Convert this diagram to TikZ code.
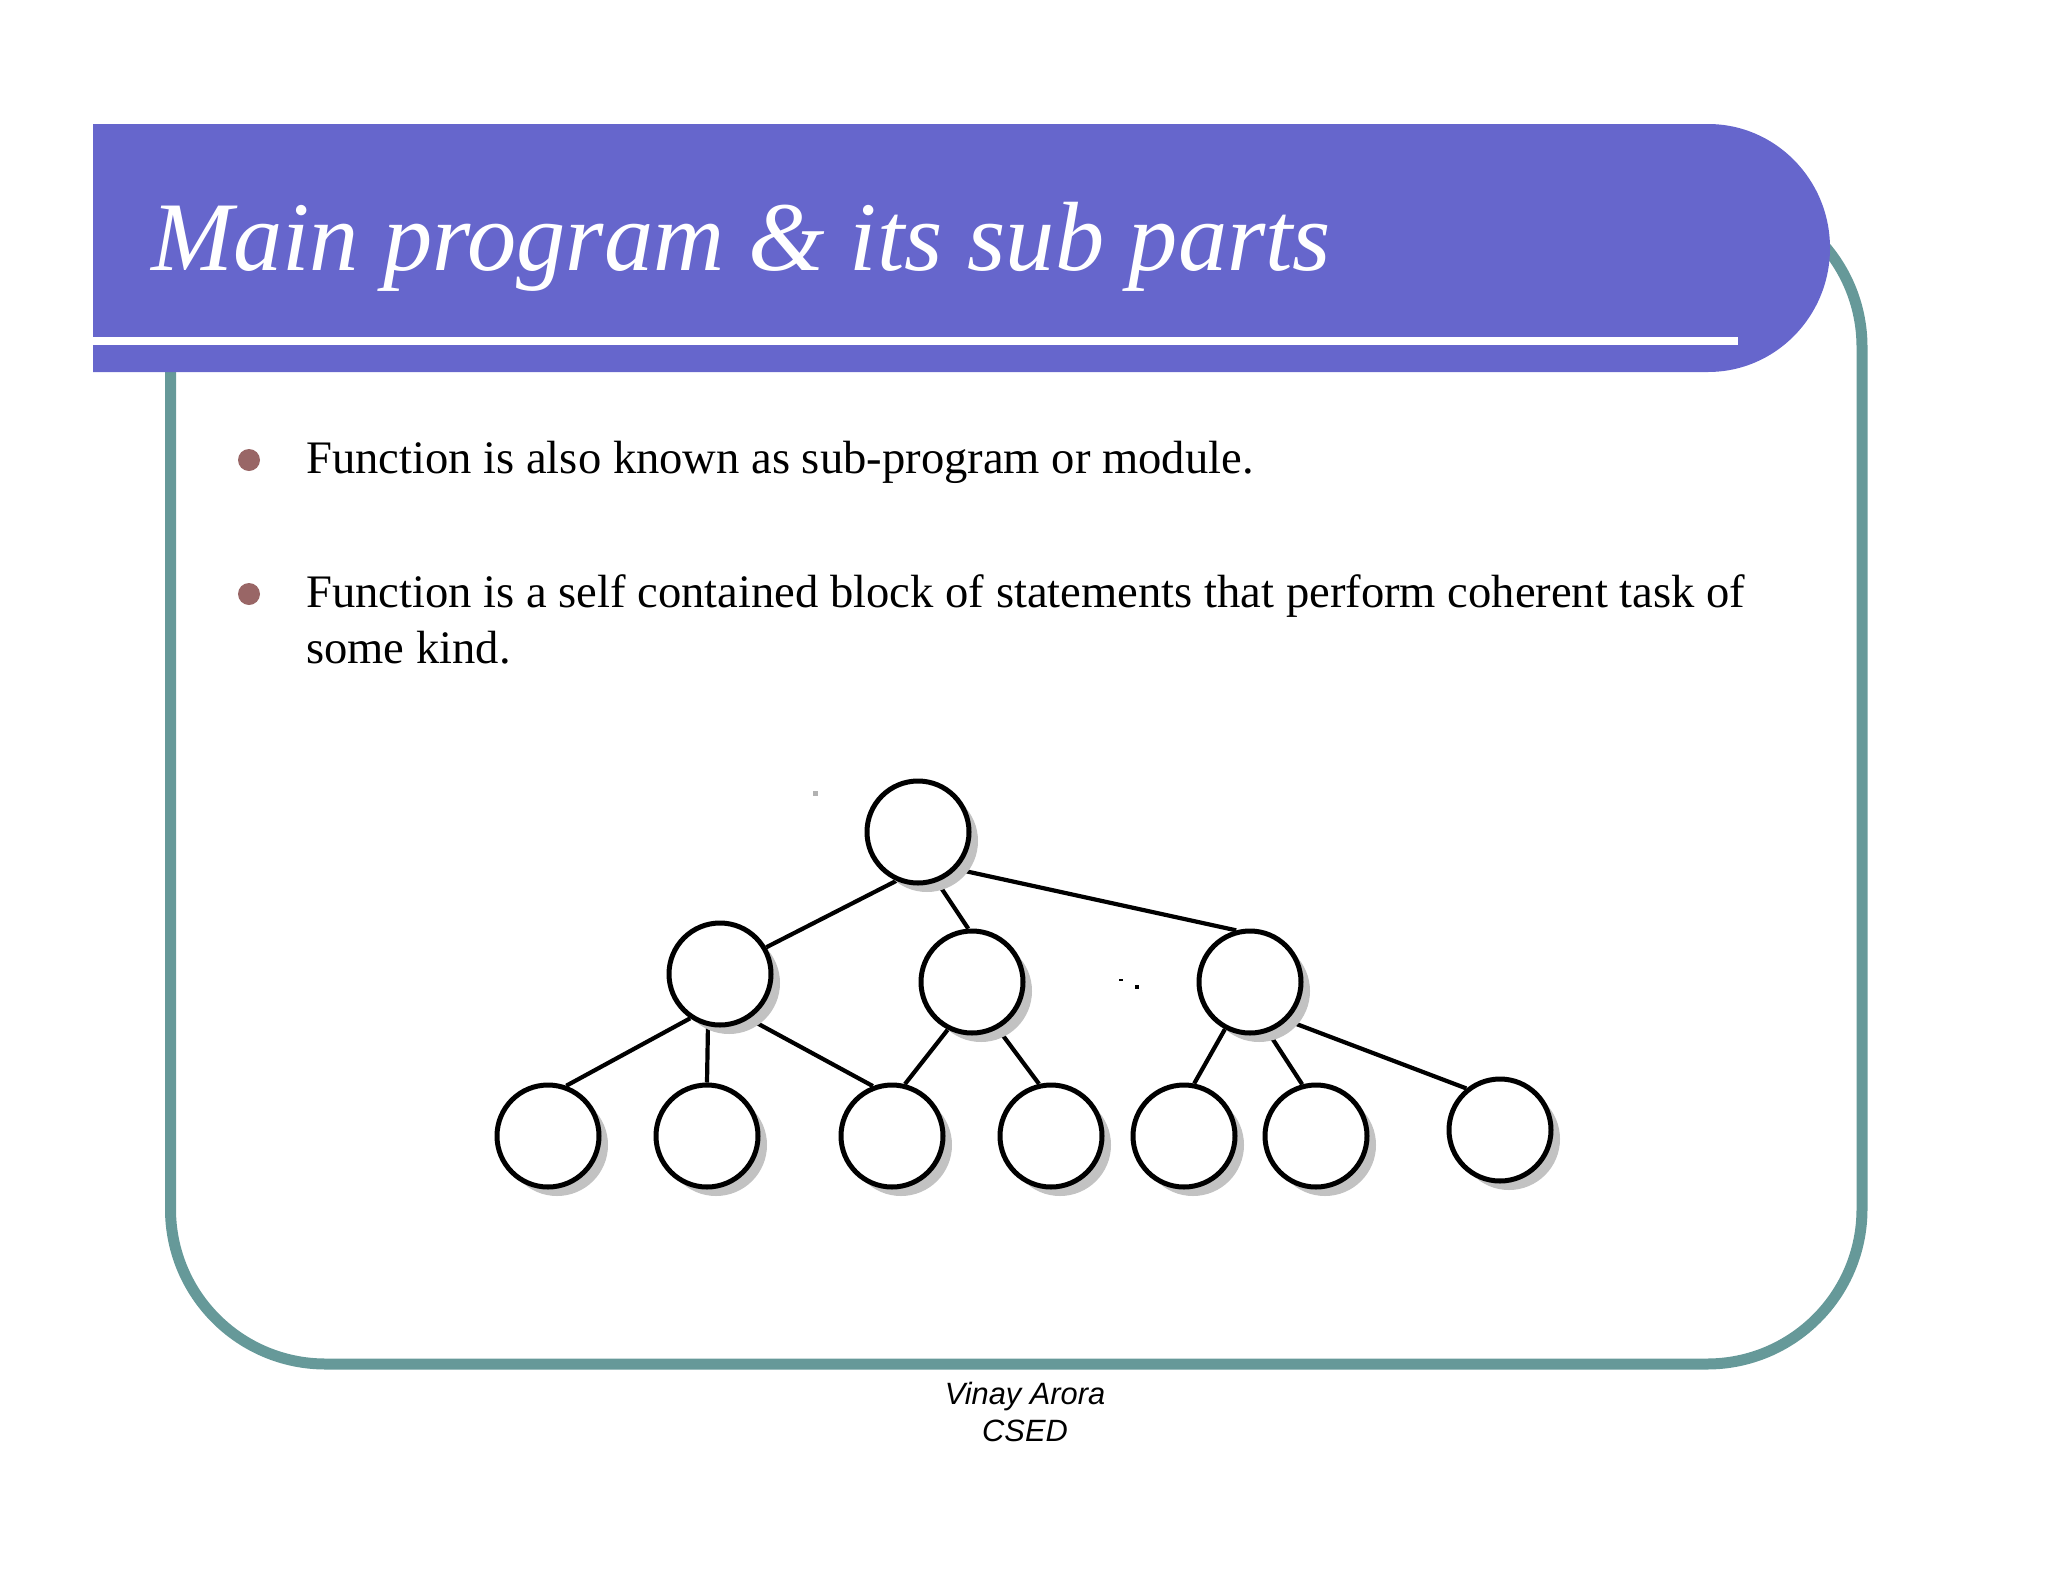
\documentclass[tikz,border=0pt]{standalone}
\usepackage{fontspec}
\setmainfont{Liberation Serif}
\newfontfamily\footfont{Liberation Sans}
\usetikzlibrary{shadows}
\definecolor{hdrpurple}{HTML}{6666CC}
\definecolor{boxteal}{HTML}{669999}
\definecolor{bulletrose}{HTML}{996666}
\definecolor{shadowgray}{HTML}{C2C2C2}
\pgfdeclarelayer{edgelayer}
\pgfsetlayers{edgelayer,main}
\begin{document}
\begin{tikzpicture}[x=1pt,y=-1pt,
  tnode/.style={circle, draw=black, line width=5pt, fill=white, minimum size=102pt, inner sep=0pt,
    drop shadow={shadow xshift=9pt, shadow yshift=-9pt, fill=shadowgray, opacity=1}},
  tedge/.style={line width=4.2pt, black},
  bullettext/.style={anchor=base west, inner sep=0pt, font=\fontsize{46.6}{56}\selectfont},
  bulletdot/.style={circle, fill=bulletrose, minimum size=22pt, inner sep=0pt},
  foottext/.style={anchor=base, inner sep=0pt, font=\footfont\itshape\fontsize{30.8}{37}\selectfont},
  speck/.style={fill=black}
]
\useasboundingbox (0,0) rectangle (2048,1582);

% frame
\draw[boxteal, line width=11pt, rounded corners=155pt] (170.5,192) rectangle (1862,1364);
\fill[hdrpurple] (93,124) -- (1708,124) arc[start angle=-90, end angle=90, x radius=122, y radius=124] -- (93,372) -- cycle;
\fill[white] (93,337) rectangle (1738,345);

% title
\node[anchor=base west, inner sep=0pt, text=white, font=\fontsize{98.4}{118}\selectfont\itshape] (title) at (151,270) {Main program \& its sub parts};

% bullets
\node[bulletdot] (d1) at (249,460) {};
\node[bullettext] (b1) at (306,473) {Function is also known as sub-program or module.};
\node[bulletdot] (d2) at (249,594) {};
\node[bullettext] (b2a) at (306,607) {Function is a self contained block of statements that perform coherent task of};
\node[bullettext] (b2b) at (306,663) {some kind.};

% footer
\node[foottext] (f1) at (1025,1404) {Vinay Arora};
\node[foottext] (f2) at (1025,1441) {CSED};

% tree nodes
\node[tnode] (root) at (918,832) {};
\node[tnode] (A) at (720,974) {};
\node[tnode] (B) at (972,982) {};
\node[tnode] (C) at (1250,982) {};
\node[tnode] (L1) at (548,1136) {};
\node[tnode] (L2) at (707,1136) {};
\node[tnode] (L3) at (892,1136) {};
\node[tnode] (L4) at (1051,1136) {};
\node[tnode] (L5) at (1184,1136) {};
\node[tnode] (L6) at (1316,1136) {};
\node[tnode] (L7) at (1500,1130) {};

% edges
\begin{pgfonlayer}{edgelayer}
\draw[tedge] (root.-114) -- (A.30);
\draw[tedge] (root.-69) -- (B.94);
\draw[tedge] (root.-44) -- (C.105);
\draw[tedge] (A.-124) -- (L1.70);
\draw[tedge] (A.-103) -- (L2.90);
\draw[tedge] (A.-57) -- (L3.111);
\draw[tedge] (B.-117) -- (L3.76);
\draw[tedge] (B.-61) -- (L4.103);
\draw[tedge] (C.-118) -- (L5.79);
\draw[tedge] (C.-70) -- (L6.105);
\draw[tedge] (C.-46) -- (L7.129);
\end{pgfonlayer}

% specks
\fill[gray!60] (813,791) rectangle (818,796);
\fill[speck] (1119,979) rectangle (1123,981);
\fill[speck] (1135,985) rectangle (1139,989);
\end{tikzpicture}
\end{document}
